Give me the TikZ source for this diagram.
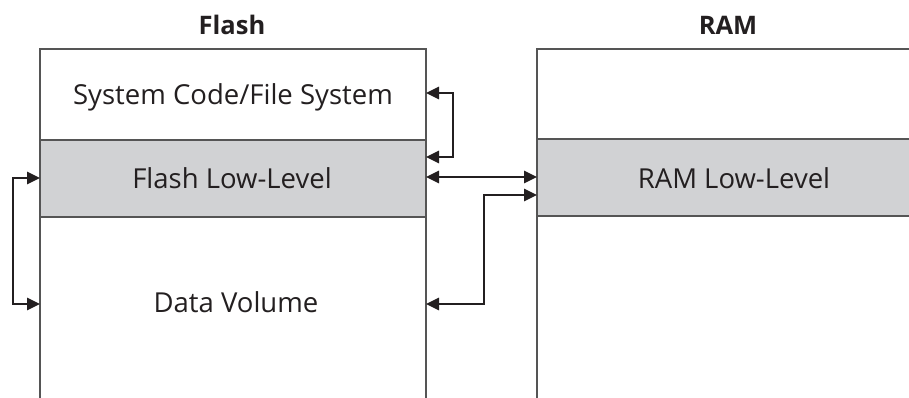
\documentclass[tikz,border=0pt]{standalone}
\usepackage{fontspec}
\setmainfont{Open Sans}
\usetikzlibrary{arrows.meta}
\definecolor{band}{HTML}{D1D2D4}
\definecolor{edge}{HTML}{555555}
\definecolor{ink}{HTML}{231F20}
\begin{document}
\begin{tikzpicture}[x=1pt,y=-1pt,
  lbl/.style={font=\fontsize{27.5}{32}\selectfont, text=ink, inner sep=0pt, anchor=base},
  ttl/.style={font=\fontsize{25.5}{30}\selectfont\bfseries, text=ink, inner sep=0pt, anchor=base},
  outline/.style={draw=edge, line width=1.5pt},
  conn/.style={draw=ink, line width=2.6pt, {Triangle[length=13pt,width=12pt]}-{Triangle[length=13pt,width=12pt]}}]
\useasboundingbox (0,0) rectangle (909,398);
% bands
\fill[band] (40,140) rectangle (426,217);
\fill[band] (537,139) rectangle (909,216);
\draw[outline] (40,140) -- (426,140) (40,217) -- (426,217);
\draw[outline] (537,139) -- (909,139) (537,216) -- (909,216);
% box outlines
\draw[outline] (40,398) -- (40,49) -- (426,49) -- (426,398);
\draw[outline] (537,398) -- (537,49) -- (909,49);
% titles
\node[ttl] (tf) at (232,35) {Flash};
\node[ttl] (tr) at (728,35) {RAM};
% labels
\node[lbl] (sys) at (233,105) {System Code/File System};
\node[lbl] (fll) at (232,188) {Flash Low-Level};
\node[lbl] (dv) at (236,312) {Data Volume};
\node[lbl] (rll) at (734,188) {RAM Low-Level};
% anchor points
\coordinate (s1) at (426,93);
\coordinate (s2) at (426,157);
\coordinate (f1) at (426,177);
\coordinate (r1) at (537,177);
\coordinate (r2) at (537,195);
\coordinate (d1) at (426,304);
\coordinate (l1) at (40,178);
\coordinate (l2) at (40,304);
% connectors
\draw[conn] (s1) -- (453,93) -- (453,157) -- (s2);
\draw[conn] (f1) -- (r1);
\draw[conn] (r2) -- (484,195) -- (484,304) -- (d1);
\draw[conn] (l1) -- (13,178) -- (13,304) -- (l2);
\end{tikzpicture}
\end{document}
